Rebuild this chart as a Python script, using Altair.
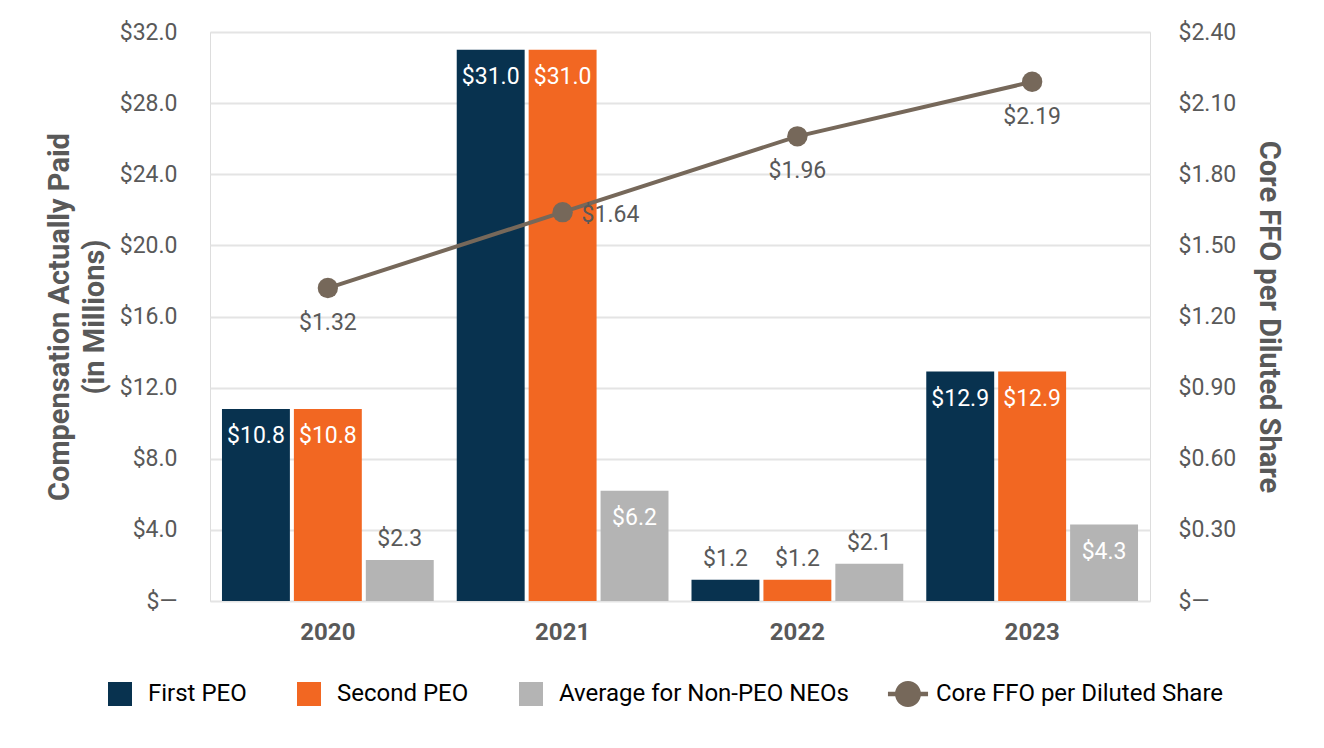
import altair as alt
import pandas as pd

# ---------------- data ----------------
years = ["2020", "2021", "2022", "2023"]
series_names = ["First PEO", "Second PEO", "Average for Non-PEO NEOs"]
line_name = "Core FFO per Diluted Share"
first_peo = [10.8, 31.0, 1.2, 12.9]
second_peo = [10.8, 31.0, 1.2, 12.9]
non_peo_avg = [2.3, 6.2, 2.1, 4.3]
core_ffo = [1.32, 1.64, 1.96, 2.19]
ffo_label_side = ["below", "right", "below", "below"]
left_ticks = [0, 4, 8, 12, 16, 20, 24, 28, 32]
right_ticks = [0, 0.3, 0.6, 0.9, 1.2, 1.5, 1.8, 2.1, 2.4]

bar_colors = ["#08324f", "#f26722", "#b4b4b4"]
line_color = "#76685a"
TEXT_GRAY = "#595959"
FONT = "Roboto"

rows = []
for i, y in enumerate(years):
    for s, vals in zip(series_names, [first_peo, second_peo, non_peo_avg]):
        rows.append({"year": y, "series": s, "value": vals[i]})
bar_df = pd.DataFrame(rows)
ffo_df = pd.DataFrame({"year": years, "ffo": core_ffo, "side": ffo_label_side,
                       "name": [line_name] * len(years)})

# ---------------- shared encodings ----------------
x_axis = alt.Axis(title=None, labelAngle=0, ticks=False, domain=False,
                  labelFont=FONT, labelFontSize=24, labelFontWeight="bold",
                  labelColor=TEXT_GRAY, labelPadding=19, grid=False)
x_enc = alt.X("year:N", sort=years,
              scale=alt.Scale(paddingInner=0.098, paddingOuter=0.051),
              axis=x_axis)
xoff_enc = alt.XOffset("series:N", sort=series_names,
                       scale=alt.Scale(paddingInner=0.0556, paddingOuter=0))

left_axis = alt.Axis(
    title=["Compensation Actually Paid", "(in Millions)"],
    titleFont=FONT, titleFontSize=29, titleFontWeight="bold", titleColor=TEXT_GRAY,
    titleLineHeight=35, titlePadding=10,
    values=left_ticks,
    labelExpr="datum.value == 0 ? '$\u2014' : '$' + format(datum.value, '.1f')",
    labelFont=FONT, labelFontSize=23, labelColor=TEXT_GRAY, labelPadding=33,
    ticks=False, domain=False, grid=True, gridColor="#e4e4e4", gridWidth=2,
)
right_axis = alt.Axis(
    title=line_name, orient="right",
    titleFont=FONT, titleFontSize=29, titleFontWeight="bold", titleColor=TEXT_GRAY,
    titlePadding=18,
    values=right_ticks,
    labelExpr="datum.value == 0 ? '$\u2014' : '$' + format(datum.value, '.2f')",
    labelFont=FONT, labelFontSize=23, labelColor=TEXT_GRAY, labelPadding=28,
    ticks=False, domain=False, grid=False,
)
y_left = alt.Y("value:Q", scale=alt.Scale(domain=[0, 32], nice=False), axis=left_axis)
y_right = alt.Y("ffo:Q", scale=alt.Scale(domain=[0, 2.4], nice=False), axis=right_axis)

bar_legend = alt.Legend(
    title=None, orient="none", direction="horizontal",
    legendX=-102, legendY=650, padding=0,
    symbolType="square", symbolSize=576, symbolStrokeWidth=0,
    labelFont=FONT, labelFontSize=24, labelColor="#000000",
    labelOffset=16, columnPadding=50, labelLimit=400,
)
custom_path = ("M-1.67,-0.18H1.67V0.18H-1.67Z "
               "M-1.08,0A1.08,1.08 0 1,1 1.08,0A1.08,1.08 0 1,1 -1.08,0Z")
line_legend = alt.Legend(
    title=None, orient="none", direction="horizontal",
    legendX=686, legendY=650, padding=0,
    symbolType=custom_path, symbolSize=576, symbolStrokeWidth=0,
    labelFont=FONT, labelFontSize=24, labelColor="#000000",
    labelOffset=16, labelLimit=400,
)

# ---------------- left layers ----------------
bars = alt.Chart(bar_df).mark_bar().encode(
    x=x_enc, xOffset=xoff_enc, y=y_left,
    color=alt.Color("series:N",
                    scale=alt.Scale(domain=series_names, range=bar_colors),
                    legend=bar_legend),
)
label_inside = alt.Chart(bar_df).transform_filter("datum.value > 3").transform_calculate(
    lbl="'$' + format(datum.value, '.1f')"
).mark_text(font=FONT, fontSize=23, color="#ffffff", baseline="middle", dy=27).encode(
    x=x_enc, xOffset=xoff_enc, y=y_left, text="lbl:N"
)
label_above = alt.Chart(bar_df).transform_filter("datum.value <= 3").transform_calculate(
    lbl="'$' + format(datum.value, '.1f')"
).mark_text(font=FONT, fontSize=23, color=TEXT_GRAY, baseline="middle", dy=-21).encode(
    x=x_enc, xOffset=xoff_enc, y=y_left, text="lbl:N"
)
left = alt.layer(bars, label_inside, label_above)

# ---------------- right layers ----------------
line = alt.Chart(ffo_df).mark_line(color=line_color, strokeWidth=4).encode(x=x_enc, y=y_right)
points = alt.Chart(ffo_df).mark_point(filled=True, size=415, opacity=1).encode(
    x=x_enc, y=y_right,
    color=alt.Color("name:N", scale=alt.Scale(domain=[line_name], range=[line_color]),
                    legend=line_legend),
)
ffo_below = alt.Chart(ffo_df).transform_filter("datum.side == 'below'").transform_calculate(
    lbl="'$' + format(datum.ffo, '.2f')"
).mark_text(font=FONT, fontSize=23, color=TEXT_GRAY, baseline="middle", dy=35).encode(
    x=x_enc, y=y_right, text="lbl:N")
ffo_right = alt.Chart(ffo_df).transform_filter("datum.side == 'right'").transform_calculate(
    lbl="'$' + format(datum.ffo, '.2f')"
).mark_text(font=FONT, fontSize=23, color=TEXT_GRAY, baseline="middle", align="left",
            dx=19, dy=3).encode(x=x_enc, y=y_right, text="lbl:N")
right = alt.layer(line, points, ffo_below, ffo_right)

chart = alt.layer(left, right).resolve_scale(y="independent", color="independent").properties(
    width=940, height=569,
    autosize=alt.AutoSizeParams(type="none"),
    padding={"left": 202, "top": 24, "right": 160, "bottom": 130},
    background="#ffffff",
).configure_view(stroke=None).configure(font=FONT)

chart.save("out.html", embed_options={"renderer": "svg", "actions": False})
